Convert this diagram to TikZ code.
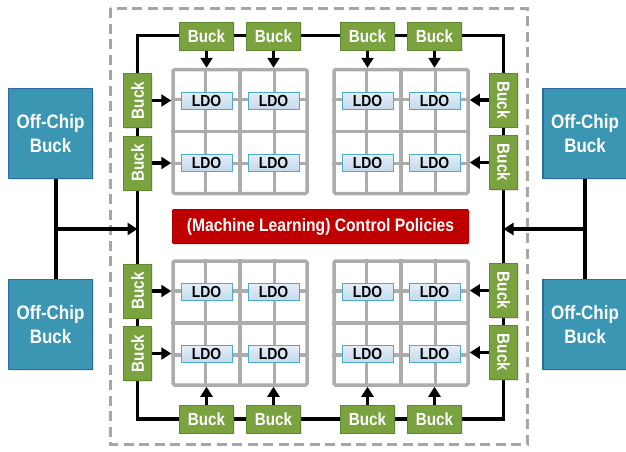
\documentclass[tikz,border=0pt]{standalone}
\usepackage{fontspec}
\setmainfont{Liberation Sans}[FakeStretch=0.87]
\usetikzlibrary{arrows.meta,calc,shadows}
\definecolor{buckgreen}{RGB}{122,163,64}
\definecolor{buckborder}{RGB}{96,136,46}
\definecolor{offteal}{RGB}{58,150,178}
\definecolor{offborder}{RGB}{46,108,160}
\definecolor{ldoborder}{RGB}{75,172,198}
\definecolor{ldotop}{RGB}{228,238,247}
\definecolor{ldobot}{RGB}{196,218,236}
\definecolor{policyred}{RGB}{192,0,0}
\definecolor{gridgray}{RGB}{172,172,172}
\definecolor{dashgray}{RGB}{166,166,166}
\tikzset{
  buckbox/.style={fill=buckgreen, draw=buckborder, line width=1pt, inner sep=0pt,
    minimum width=54pt, minimum height=28pt, text=white,
    font=\fontsize{17.5}{20}\selectfont\bfseries,
    drop shadow={opacity=0.2, shadow xshift=1pt, shadow yshift=-1pt}},
  offbox/.style={fill=offteal, draw=offborder, line width=1.2pt, inner sep=0pt,
    minimum width=84pt, minimum height=90pt, text=white, align=center,
    font=\fontsize{19.5}{24}\selectfont\bfseries,
    drop shadow={opacity=0.2, shadow xshift=1.5pt, shadow yshift=-1.5pt}},
  ldobox/.style={top color=ldotop, bottom color=ldobot, draw=ldoborder, line width=1pt,
    inner sep=0pt, minimum width=51pt, minimum height=17pt,
    font=\fontsize{16}{18}\selectfont\bfseries},
  gridbox/.style={draw=gridgray, line width=3.5pt, rounded corners=1.5pt, inner sep=0pt,
    minimum width=134pt, minimum height=124pt},
  gridline/.style={draw=gridgray, line width=3.5pt},
  policybox/.style={fill=policyred, draw=policyred!85!black, line width=0.8pt, inner sep=0pt,
    minimum width=296pt, minimum height=34pt, text=white, rounded corners=1pt,
    font=\fontsize{18}{20}\selectfont\bfseries,
    drop shadow={opacity=0.25, shadow xshift=1.5pt, shadow yshift=-1.5pt}},
  bus/.style={draw=black, line width=3.5pt},
  arr/.style={draw=black, line width=3.5pt, -{Triangle[width=12pt,length=10pt]}},
  boundary/.style={draw=dashgray, line width=3pt, dash pattern=on 10pt off 5.5pt},
}
\begin{document}
\begin{tikzpicture}[x=1pt,y=-1pt]
\useasboundingbox (0,0) rectangle (626,451);

% dashed chip boundary
\draw[boundary] (110,8) rectangle (527,444);

% bus loop
\coordinate (bNW) at (137.5,35.5);
\coordinate (bSE) at (503.5,419);
\draw[bus] (bNW) rectangle (bSE);

% grids
\node[gridbox] (gTL) at (240,131.5) {};
\node[gridbox] (gTR) at (401,131.5) {};
\node[gridbox] (gBL) at (240,323) {};
\node[gridbox] (gBR) at (401,323) {};
\foreach \g in {gTL,gTR,gBL,gBR}{
  \foreach \f in {0.25,0.5,0.75}{
    \draw[gridline] ($(\g.north west)!\f!(\g.north east)$) -- ($(\g.south west)!\f!(\g.south east)$);
    \draw[gridline] ($(\g.north west)!\f!(\g.south west)$) -- ($(\g.north east)!\f!(\g.south east)$);
  }
}

% LDOs
\foreach \x/\c in {206.5/a,273.5/b,367.5/c,434.5/d}{
  \foreach \y/\r in {100.5/1,162.5/2,292/3,354/4}{
    \node[ldobox] (ldo\c\r) at (\x,\y) {LDO};
  }
}

% top bucks
\node[buckbox] (tb1) at (206.5,36) {Buck};
\node[buckbox] (tb2) at (273.5,36) {Buck};
\node[buckbox] (tb3) at (367.5,36) {Buck};
\node[buckbox] (tb4) at (434.5,36) {Buck};
% bottom bucks
\node[buckbox] (bb1) at (206.5,419) {Buck};
\node[buckbox] (bb2) at (273.5,419) {Buck};
\node[buckbox] (bb3) at (367.5,419) {Buck};
\node[buckbox] (bb4) at (434.5,419) {Buck};
% left bucks
\node[buckbox, rotate=90] (lb1) at (137.5,100.5) {Buck};
\node[buckbox, rotate=90] (lb2) at (137.5,163) {Buck};
\node[buckbox, rotate=90] (lb3) at (137.5,291) {Buck};
\node[buckbox, rotate=90] (lb4) at (137.5,353.5) {Buck};
% right bucks
\node[buckbox, rotate=-90] (rb1) at (503.5,100) {Buck};
\node[buckbox, rotate=-90] (rb2) at (503.5,162.5) {Buck};
\node[buckbox, rotate=-90] (rb3) at (503.5,290.5) {Buck};
\node[buckbox, rotate=-90] (rb4) at (503.5,352.5) {Buck};

% arrows into grids
\draw[arr] (tb1) -- (tb1 |- gTL.north);
\draw[arr] (tb2) -- (tb2 |- gTL.north);
\draw[arr] (tb3) -- (tb3 |- gTR.north);
\draw[arr] (tb4) -- (tb4 |- gTR.north);
\draw[arr] (bb1) -- (bb1 |- gBL.south);
\draw[arr] (bb2) -- (bb2 |- gBL.south);
\draw[arr] (bb3) -- (bb3 |- gBR.south);
\draw[arr] (bb4) -- (bb4 |- gBR.south);
\draw[arr] (lb1) -- (lb1 -| gTL.west);
\draw[arr] (lb2) -- (lb2 -| gTL.west);
\draw[arr] (lb3) -- (lb3 -| gBL.west);
\draw[arr] (lb4) -- (lb4 -| gBL.west);
\draw[arr] (rb1) -- (rb1 -| gTR.east);
\draw[arr] (rb2) -- (rb2 -| gTR.east);
\draw[arr] (rb3) -- (rb3 -| gBR.east);
\draw[arr] (rb4) -- (rb4 -| gBR.east);

% control policies
\node[policybox] (pol) at (320.5,226.5) {(Machine Learning) Control Policies};

% off-chip bucks
\node[offbox] (ocl1) at (50.5,133.5) {Off-Chip\\Buck};
\node[offbox] (ocl2) at (50.5,324.5) {Off-Chip\\Buck};
\node[offbox] (ocr1) at (585,133.5) {Off-Chip\\Buck};
\node[offbox] (ocr2) at (585,324.5) {Off-Chip\\Buck};

\coordinate (lj) at (56,229);
\coordinate (rj) at (585,229);
\draw[bus] (lj |- ocl1.south) -- (lj |- ocl2.north);
\draw[bus] (ocr1.south) -- (ocr2.north);
\draw[arr] (lj) -- (lj -| bNW);
\draw[arr] (rj) -- (rj -| bSE);
\end{tikzpicture}
\end{document}
